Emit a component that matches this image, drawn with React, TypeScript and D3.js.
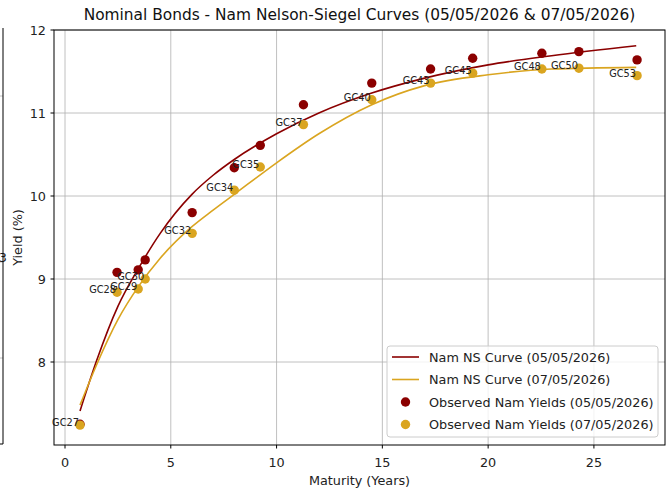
import React from 'react';
import * as d3 from 'd3';

// bonds and observed yields (%)
const bonds = ['GC27', 'GC28', 'GC29', 'GC30', 'GC32', 'GC34', 'GC35', 'GC37', 'GC40', 'GC43', 'GC45', 'GC48', 'GC50', 'GC53'];
const maturities = [0.71, 2.46, 3.46, 3.79, 6.01, 8.0, 9.23, 11.27, 14.5, 17.28, 19.27, 22.54, 24.29, 27.04];
const yields0505 = [7.25, 9.08, 9.11, 9.23, 9.8, 10.34, 10.61, 11.1, 11.36, 11.53, 11.66, 11.72, 11.74, 11.64];
const yields0705 = [7.24, 8.84, 8.88, 9.0, 9.55, 10.07, 10.35, 10.86, 11.16, 11.36, 11.48, 11.53, 11.54, 11.45];

// fitted curves
const curveT = [0.71, 1.5, 2.5, 3.5, 4.5, 6, 7, 8, 10, 12, 14.5, 17, 20, 23, 27];
const curve0505 = [7.41, 8.02, 8.67, 9.14, 9.55, 10.02, 10.25, 10.44, 10.75, 11.0, 11.24, 11.42, 11.58, 11.69, 11.81];
const curve0705 = [7.48, 7.97, 8.51, 8.92, 9.25, 9.63, 9.83, 10.02, 10.4, 10.75, 11.1, 11.33, 11.46, 11.53, 11.55];

const xTicks = [0, 5, 10, 15, 20, 25];
const yTicks = [8, 9, 10, 11, 12];

const RED = '#8b0000';
const GOLD = '#daa520';
const FONT = 'DejaVu Sans, sans-serif';

const W = 667;
const H = 495;
const left = 54, right = 665, top = 30, bottom = 445;
const FS = 12.8;
const R = 4.7;

export default function App() {
  const x = d3.scaleLinear().domain([-0.52, 28.36]).range([left, right]);
  const y = d3.scaleLinear().domain([7, 12]).range([bottom, top]);

  const line = d3.line<number>()
    .x((d, i) => x(curveT[i]))
    .y(d => y(d))
    .curve(d3.curveMonotoneX);

  const legendItems = [
    { label: 'Nam NS Curve (05/05/2026)', color: RED, kind: 'line' },
    { label: 'Nam NS Curve (07/05/2026)', color: GOLD, kind: 'line' },
    { label: 'Observed Nam Yields (05/05/2026)', color: RED, kind: 'dot' },
    { label: 'Observed Nam Yields (07/05/2026)', color: GOLD, kind: 'dot' },
  ];

  return (
    <svg width={W} height={H} style={{ position: 'absolute', left: 0, top: 0, background: '#fff' }} fontFamily={FONT}>
      <rect width={W} height={H} fill="#fff" />

      {/* edge of the neighbouring subplot */}
      <g>
        {[96, 262, 358].map(v => (
          <line key={v} x1={0} x2={3} y1={v} y2={v} stroke="#b0b0b0" strokeWidth={0.8} />
        ))}
        <text x={7} y={262} textAnchor="end" fontSize={FS} fill="#222">3</text>
        <line x1={3} x2={3} y1={28} y2={444} stroke="#000" strokeWidth={1} />
        <line x1={0} x2={3} y1={444} y2={444} stroke="#000" strokeWidth={1} />
      </g>

      <defs>
        <clipPath id="plot">
          <rect x={left} y={top} width={right - left} height={bottom - top} />
        </clipPath>
      </defs>

      {/* grid */}
      {xTicks.map(t => (
        <line key={'gx' + t} x1={x(t)} x2={x(t)} y1={top} y2={bottom} stroke="#b0b0b0" strokeWidth={0.8} />
      ))}
      {yTicks.map(t => (
        <line key={'gy' + t} x1={left} x2={right} y1={y(t)} y2={y(t)} stroke="#b0b0b0" strokeWidth={0.8} />
      ))}

      <g clipPath="url(#plot)">
        <path d={line(curve0505) || ''} fill="none" stroke={RED} strokeWidth={1.6} />
        <path d={line(curve0705) || ''} fill="none" stroke={GOLD} strokeWidth={1.6} />
        {maturities.map((m, i) => (
          <circle key={'r' + i} cx={x(m)} cy={y(yields0505[i])} r={R} fill={RED} />
        ))}
        {maturities.map((m, i) => (
          <circle key={'g' + i} cx={x(m)} cy={y(yields0705[i])} r={R} fill={GOLD} />
        ))}
      </g>

      {bonds.map((b, i) => (
        <text key={b} x={x(maturities[i]) - 1} y={y(yields0705[i]) + 1} textAnchor="end" fontSize={9.8} fill="#222">
          {b}
        </text>
      ))}

      {/* spines */}
      <rect x={left} y={top} width={right - left} height={bottom - top} fill="none" stroke="#000" strokeWidth={1} />

      {/* ticks */}
      {xTicks.map(t => (
        <g key={'tx' + t}>
          <line x1={x(t)} x2={x(t)} y1={bottom} y2={bottom + 3.5} stroke="#000" />
          <text x={x(t)} y={bottom + 22} textAnchor="middle" fontSize={FS} fill="#222">{t}</text>
        </g>
      ))}
      {yTicks.map(t => (
        <g key={'ty' + t}>
          <line x1={left - 3.5} x2={left} y1={y(t)} y2={y(t)} stroke="#000" />
          <text x={left - 8} y={y(t)} dy="0.36em" textAnchor="end" fontSize={FS} fill="#222">{t}</text>
        </g>
      ))}

      <text x={(left + right) / 2} y={485} textAnchor="middle" fontSize={FS} fill="#222">Maturity (Years)</text>
      <text transform={`translate(22,${(top + bottom) / 2}) rotate(-90)`} textAnchor="middle" fontSize={FS} fill="#222">Yield (%)</text>
      <text x={(left + right) / 2} y={20} textAnchor="middle" fontSize={15.4} fill="#111">
        Nominal Bonds - Nam Nelson-Siegel Curves (05/05/2026 &amp; 07/05/2026)
      </text>

      {/* legend */}
      <g>
        <rect x={387} y={346} width={271} height={91} rx={3} fill="#fff" fillOpacity={0.8} stroke="#cccccc" />
        {legendItems.map((it, i) => {
          const cy = 357 + i * 22.5;
          return (
            <g key={it.label}>
              {it.kind === 'line'
                ? <line x1={392} x2={419} y1={cy} y2={cy} stroke={it.color} strokeWidth={1.6} />
                : <circle cx={405.5} cy={cy} r={R} fill={it.color} />}
              <text x={429} y={cy} dy="0.36em" fontSize={FS} fill="#222">{it.label}</text>
            </g>
          );
        })}
      </g>
    </svg>
  );
}
